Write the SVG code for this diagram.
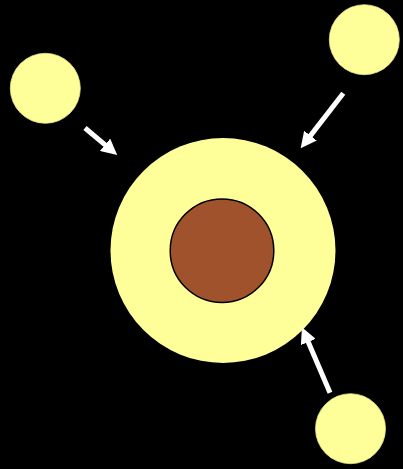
<svg xmlns="http://www.w3.org/2000/svg" width="403" height="469" viewBox="0 0 403 469">
<style>
.small{fill:#ffff99;stroke:#e6e68a;stroke-width:0.8}
.arrow{stroke:#ffffff;stroke-width:5;fill:none;marker-end:url(#ah)}
</style>
<defs>
<marker id="ah" markerUnits="userSpaceOnUse" markerWidth="17" markerHeight="16" refX="6" refY="8" orient="auto" viewBox="0 0 17 16">
<path d="M0,0 L16,8 L0,16 z" fill="#ffffff"/>
</marker>
</defs>
<rect x="0" y="0" width="403" height="469" fill="#000000"/>
<g id="cell">
<circle cx="223" cy="250.5" r="112.5" fill="#ffff99"/>
</g>
<g id="nucleus">
<circle cx="222" cy="250.7" r="51.8" fill="#a0522d" stroke="#000000" stroke-width="1.5"/>
</g>
<g id="particle1"><circle class="small" cx="45.3" cy="88.3" r="35"/></g>
<g id="particle2"><circle class="small" cx="364.3" cy="39.7" r="35"/></g>
<g id="particle3"><circle class="small" cx="350.5" cy="428.7" r="35"/></g>
<g id="connectors">
<line class="arrow" x1="85" y1="128" x2="109.6" y2="148.6"/>
<line class="arrow" x1="343.3" y1="93.3" x2="306.8" y2="140.4"/>
<line class="arrow" x1="330" y1="392.7" x2="305.9" y2="336.5"/>
</g>
</svg>
